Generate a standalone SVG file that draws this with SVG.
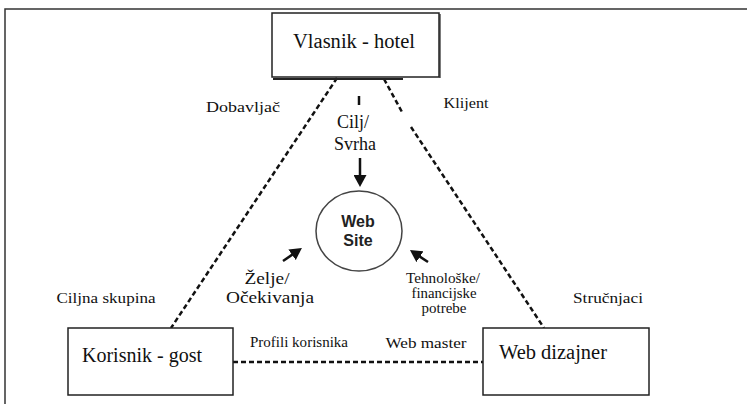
<svg xmlns="http://www.w3.org/2000/svg" width="747" height="404" viewBox="0 0 747 404">
<style>
.box{fill:#fff;stroke:#222;stroke-width:1.5}
.lbl{font-family:"Liberation Serif","Times New Roman",serif;fill:#111;text-anchor:middle}
.big{font-size:20px}
.mid{font-size:18px}
.mid2{font-size:17px}
.sm{font-size:15px}
.xs{font-size:14px}
.sans{font-family:"Liberation Sans",Arial,sans-serif;font-weight:bold;font-size:16px;fill:#222;text-anchor:middle}
.dash{fill:none;stroke:#111;stroke-width:2.5;stroke-dasharray:5 3}
.arr{fill:none;stroke:#111;stroke-width:2.5}
</style>
<defs>
<marker id="ah" markerUnits="userSpaceOnUse" markerWidth="13" markerHeight="13" refX="2" refY="6.5" orient="auto">
<path d="M0,0 L12,6.5 L0,13 z" fill="#111"/>
</marker>
</defs>
<rect width="747" height="404" fill="#fff"/>
<path d="M5,404 V9 H747" fill="none" stroke="#333" stroke-width="1.5"/>

<g id="connectors">
<line class="dash" x1="337" y1="78" x2="171" y2="328"/>
<line class="dash" x1="384" y1="79" x2="402" y2="112"/>
<line class="dash" x1="411" y1="127" x2="544" y2="328"/>
<line class="dash" x1="233" y1="362" x2="483" y2="362"/>
<line x1="359" y1="96" x2="359" y2="105" stroke="#111" stroke-width="2.5"/>
<line class="arr" x1="360" y1="158" x2="360" y2="177" marker-end="url(#ah)"/>
<line class="arr" x1="283" y1="261" x2="293.7" y2="253.6" marker-end="url(#ah)"/>
<line class="arr" x1="428" y1="262" x2="418.3" y2="255.6" marker-end="url(#ah)"/>
</g>

<g id="vlasnik">
<rect class="box" x="272" y="13" width="167" height="64"/>
<line x1="273" y1="79" x2="403" y2="79" stroke="#222" stroke-width="2"/>
<line x1="440" y1="14" x2="440" y2="78" stroke="#222" stroke-width="1.2"/>
<text class="lbl big" x="354" y="48" textLength="122" lengthAdjust="spacingAndGlyphs">Vlasnik - hotel</text>
</g>

<g id="korisnik">
<rect class="box" x="68" y="328" width="165" height="67"/>
<text class="lbl big" x="142" y="362" textLength="120" lengthAdjust="spacingAndGlyphs">Korisnik - gost</text>
</g>

<g id="dizajner">
<rect class="box" x="483" y="328" width="166" height="67"/>
<text class="lbl big" x="553" y="359" textLength="108" lengthAdjust="spacingAndGlyphs">Web dizajner</text>
</g>

<g id="website">
<ellipse cx="359" cy="231" rx="43" ry="40" fill="#fff" stroke="#444" stroke-width="1.5"/>
<text class="sans" x="358" y="227">Web</text>
<text class="sans" x="358" y="246">Site</text>
</g>

<g id="labels">
<text class="lbl mid" x="353" y="128">Cilj/</text>
<text class="lbl mid" x="355" y="150">Svrha</text>
<text class="lbl sm" x="243" y="112" textLength="74" lengthAdjust="spacingAndGlyphs">Dobavljač</text>
<text class="lbl sm" x="466" y="108" textLength="45" lengthAdjust="spacingAndGlyphs">Klijent</text>
<text class="lbl mid2" x="267" y="284" textLength="45" lengthAdjust="spacingAndGlyphs">Želje/</text>
<text class="lbl mid2" x="270" y="303" textLength="88" lengthAdjust="spacingAndGlyphs">Očekivanja</text>
<text class="lbl xs" x="443" y="283" textLength="74" lengthAdjust="spacingAndGlyphs">Tehnološke/</text>
<text class="lbl xs" x="444" y="298" textLength="65" lengthAdjust="spacingAndGlyphs">financijske</text>
<text class="lbl xs" x="444" y="313" textLength="45" lengthAdjust="spacingAndGlyphs">potrebe</text>
<text class="lbl sm" x="106" y="303" textLength="99" lengthAdjust="spacingAndGlyphs">Ciljna skupina</text>
<text class="lbl sm" x="608" y="303" textLength="70" lengthAdjust="spacingAndGlyphs">Stručnjaci</text>
<text class="lbl sm" x="299" y="347" textLength="98" lengthAdjust="spacingAndGlyphs">Profili korisnika</text>
<text class="lbl sm" x="426" y="348" textLength="81" lengthAdjust="spacingAndGlyphs">Web master</text>
</g>
</svg>
